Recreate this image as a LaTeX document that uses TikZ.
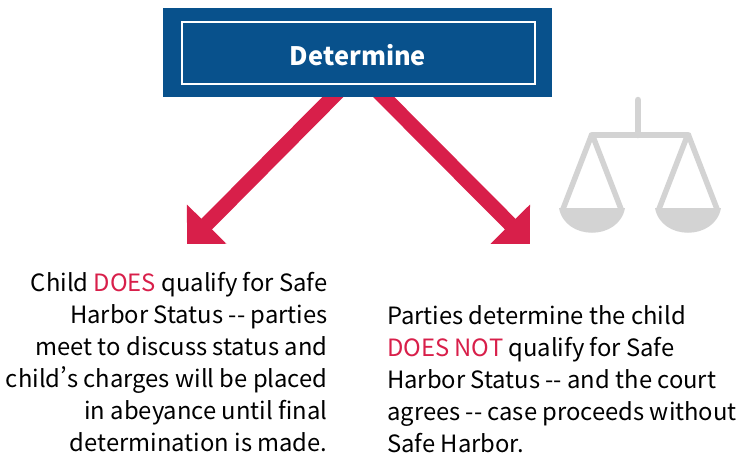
\documentclass[tikz,border=0pt]{standalone}
\usepackage{fontspec}
\setmainfont[RawFeature=+pwid]{Noto Sans CJK SC}
\usetikzlibrary{arrows.meta, positioning, calc, backgrounds}
\definecolor{boxblue}{HTML}{08518C}
\definecolor{arrowred}{HTML}{D81F4A}
\definecolor{scalegray}{HTML}{D3D3D3}
\newcommand{\hl}[1]{\textcolor{arrowred}{#1}}

\begin{document}
\begin{tikzpicture}[
      x=1pt, y=-1pt,
      outerbox/.style={rectangle, fill=boxblue, minimum width=389pt, minimum height=89pt},
      innerbox/.style={rectangle, draw=white, line width=2pt, minimum width=353pt, minimum height=62pt, text height=25pt, text depth=0pt, text=white, font=\fontsize{25.4}{30}\selectfont\bfseries},
      arrow/.style={-{Triangle[length=28pt, width=54pt]}, line width=15pt, arrowred},
      blurb/.style={font=\fontsize{23.8}{32}\selectfont, inner sep=0pt},
      beam/.style={line width=6.5pt, scalegray, line cap=round},
      cord/.style={line width=5.5pt, scalegray}
    ]
    \useasboundingbox (0,0) rectangle (741,463);

    % Nodes
    \node[outerbox] (outer) at (357.5,52.5) {};
    \node[innerbox] (determine) at (358,52.5) {Determine};
    \coordinate (lefttip) at (187,244);
    \coordinate (righttip) at (530,244);
    \node[blurb, align=right, anchor=south east] (yes) at (327.7,452) {Child \hl{DOES} qualify for Safe\\Harbor Status -{}- parties\\meet to discuss status and\\child’s charges will be placed\\in abeyance until final\\determination is made.};
    \node[blurb, align=left, anchor=south west] (no) at (387,453) {Parties determine the child\\\hl{DOES NOT} qualify for Safe\\Harbor Status -{}- and the court\\agrees -{}- case proceeds without\\Safe Harbor.};

    % Arrows
    \begin{scope}[on background layer]
      \draw[arrow] ($(outer.south)+(-10,-15)$) -- (lefttip);
      \draw[arrow] ($(outer.south)+(11.5,-15)$) -- (righttip);
    \end{scope}

    % Scales
    \draw[beam] (638,100) -- (638,135);
    \draw[beam] (592,135) -- (688,135);
    \foreach \x in {592,688} {
      \draw[cord] (\x,134) -- (\x-29,209);
      \draw[cord] (\x,134) -- (\x+29,209);
      \fill[scalegray] (\x-33,208) .. controls (\x-27,241) and (\x+27,241) .. (\x+33,208) -- cycle;
    }
\end{tikzpicture}
\end{document}
